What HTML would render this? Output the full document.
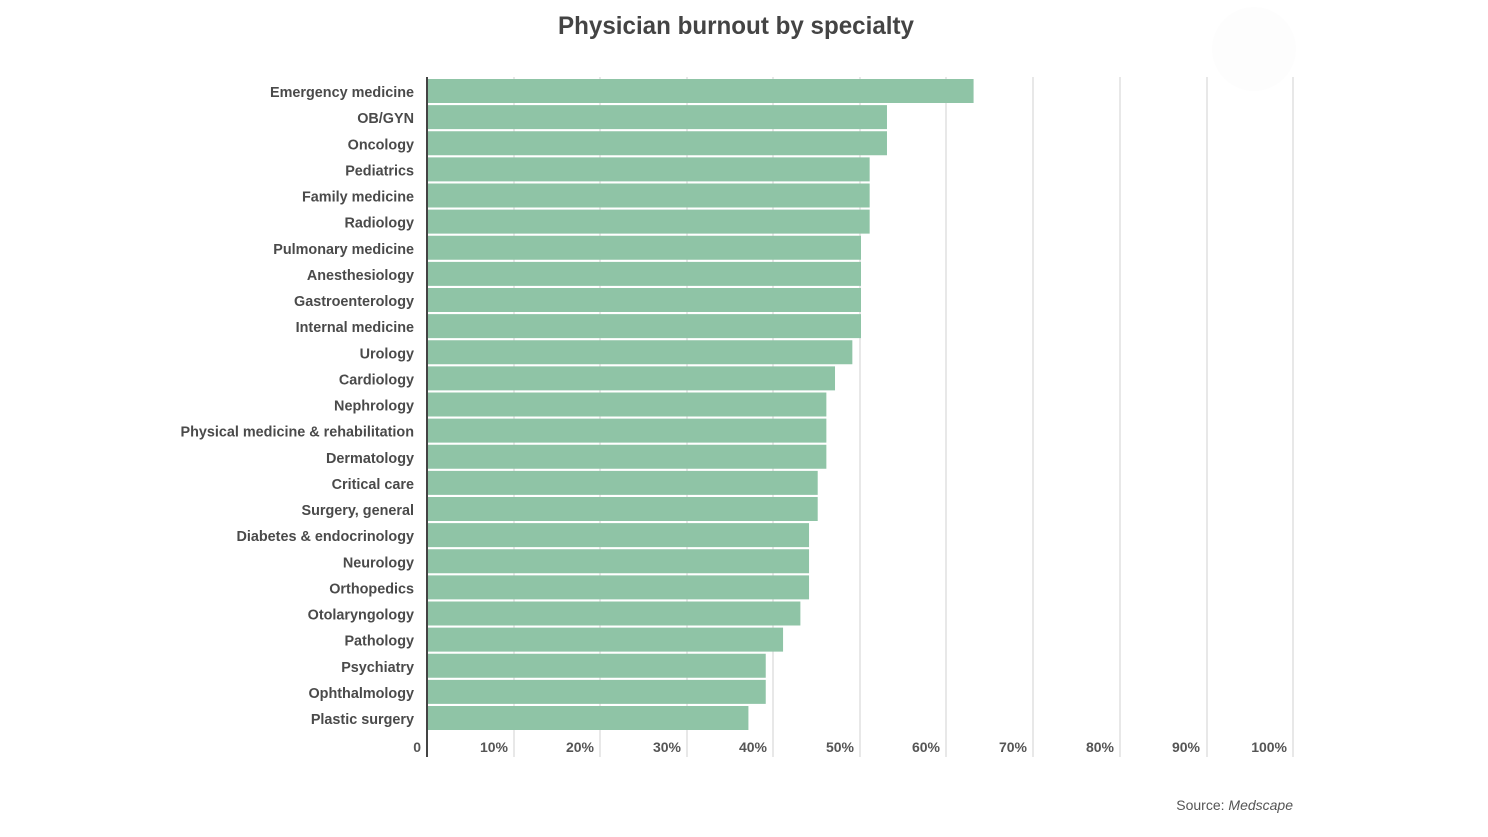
<!DOCTYPE html>
<html><head><meta charset="utf-8"><style>
html,body{margin:0;padding:0;background:#fff;}
svg{display:block;font-family:"Liberation Sans",sans-serif;}
</style></head><body>
<svg width="1488" height="837" viewBox="0 0 1488 837" xmlns="http://www.w3.org/2000/svg">
<rect width="1488" height="837" fill="#fff"/>
<circle cx="1254" cy="49" r="42" fill="#fdfdfd"/>
<text x="736" y="34" text-anchor="middle" font-size="25" font-weight="bold" fill="#444" textLength="356" lengthAdjust="spacingAndGlyphs">Physician burnout by specialty</text>
<g stroke="#e0e0e0" stroke-width="1.5">
<line x1="514" y1="77" x2="514" y2="757"/><line x1="600" y1="77" x2="600" y2="757"/><line x1="687" y1="77" x2="687" y2="757"/><line x1="773" y1="77" x2="773" y2="757"/><line x1="860" y1="77" x2="860" y2="757"/><line x1="946" y1="77" x2="946" y2="757"/><line x1="1033" y1="77" x2="1033" y2="757"/><line x1="1120" y1="77" x2="1120" y2="757"/><line x1="1207" y1="77" x2="1207" y2="757"/><line x1="1293" y1="77" x2="1293" y2="757"/>
</g>
<g id="bars" fill="#8fc4a6"></g>
<g id="labels" font-size="14.4" font-weight="bold" fill="#4a4a4a" text-anchor="end"></g>
<line x1="427" y1="77" x2="427" y2="757" stroke="#444" stroke-width="2"/>
<g font-size="14" font-weight="bold" fill="#555" text-anchor="end">
<text x="421" y="752">0</text><text x="508" y="752">10%</text><text x="594" y="752">20%</text><text x="681" y="752">30%</text><text x="767" y="752">40%</text><text x="854" y="752">50%</text><text x="940" y="752">60%</text><text x="1027" y="752">70%</text><text x="1114" y="752">80%</text><text x="1200" y="752">90%</text><text x="1287" y="752">100%</text>
</g>
<text x="1293" y="810" text-anchor="end" font-size="14" fill="#555">Source: <tspan font-style="italic">Medscape</tspan></text>
<script>
var d=[["Emergency medicine",63],["OB/GYN",53],["Oncology",53],["Pediatrics",51],["Family medicine",51],["Radiology",51],["Pulmonary medicine",50],["Anesthesiology",50],["Gastroenterology",50],["Internal medicine",50],["Urology",49],["Cardiology",47],["Nephrology",46],["Physical medicine & rehabilitation",46],["Dermatology",46],["Critical care",45],["Surgery, general",45],["Diabetes & endocrinology",44],["Neurology",44],["Orthopedics",44],["Otolaryngology",43],["Pathology",41],["Psychiatry",39],["Ophthalmology",39],["Plastic surgery",37]];
var ns="http://www.w3.org/2000/svg",b=document.getElementById("bars"),l=document.getElementById("labels");
d.forEach(function(r,i){var y=79+i*26.125;
var e=document.createElementNS(ns,"rect");e.setAttribute("x",428);e.setAttribute("y",y);e.setAttribute("width",r[1]*8.66);e.setAttribute("height",24);b.appendChild(e);
var t=document.createElementNS(ns,"text");t.setAttribute("x",414);t.setAttribute("y",y+18);t.textContent=r[0];l.appendChild(t);});
</script>
</svg>
</body></html>
